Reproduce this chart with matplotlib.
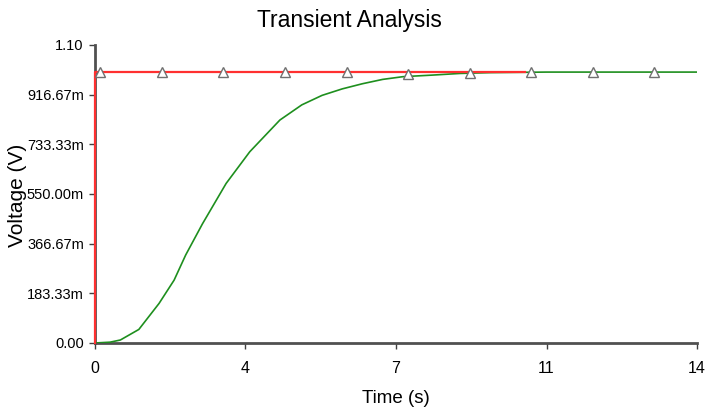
import matplotlib
matplotlib.use("Agg")
import matplotlib.pyplot as plt

# data
t_out = [0.0, 0.35, 0.59, 1.02, 1.49, 1.84, 2.11, 2.50, 3.05, 3.60, 4.30, 4.81,
         5.28, 5.75, 6.22, 6.69, 7.16, 7.86, 8.49, 9.2, 10.5, 14.0]
v_out = [0.0, 0.003, 0.011, 0.05, 0.146, 0.232, 0.325, 0.44, 0.589, 0.706, 0.823, 0.879,
         0.914, 0.938, 0.957, 0.973, 0.983, 0.989, 0.995, 0.998, 1.0, 1.0]
t_in = [0.0, 0.0, 10.0]
v_in = [0.0, 1.0, 1.0]
t_mark = [0.12, 1.55, 2.98, 4.41, 5.85, 7.28, 8.71, 10.14, 11.57, 13.0]
v_mark = [1.0, 1.0, 1.0, 1.0, 1.0, 0.993, 0.998, 1.0, 1.0, 1.0]

yticks = [0, 0.18333, 0.36667, 0.55, 0.73333, 0.91667, 1.1]
ylabels = ["0.00", "183.33m", "366.67m", "550.00m", "733.33m", "916.67m", "1.10"]
xticks = [0, 3.5, 7, 10.5, 14]
xlabels = ["0", "4", "7", "11", "14"]

plt.rcParams['font.family'] = ['Liberation Sans', 'DejaVu Sans']

fig = plt.figure(figsize=(7.13, 4.12), dpi=100)
ax = fig.add_axes([0.1332, 0.1675, 0.8444, 0.7233])

ax.plot(t_out, v_out, color='#1e8f1e', lw=1.2, zorder=3)
# input step drawn over the left spine, like the reference
ax.plot(t_in, v_in, color='#ff3030', lw=1.6, zorder=3.2, clip_on=False)
ax.plot(t_mark, v_mark, ls='none', marker='^', ms=6.5, mfc='white', mec='#707070', mew=1.0, zorder=4)

ax.set_xlim(0, 14)
ax.set_ylim(0, 1.1)
ax.set_xticks(xticks)
ax.set_xticklabels(xlabels)
ax.set_yticks(yticks)
ax.set_yticklabels(ylabels)
ax.tick_params(labelsize=10.5, length=4, width=1, color='#404040', direction='out')
ax.tick_params(axis='x', labelsize=11.5, pad=9)
ax.tick_params(axis='y', pad=4)

for s in ['top', 'right']:
    ax.spines[s].set_visible(False)
for s in ['left', 'bottom']:
    ax.spines[s].set_color('#505050')
    ax.spines[s].set_linewidth(2)

ax.set_xlabel("Time (s)", fontsize=13.5, va='center')
ax.xaxis.set_label_coords(0.5, -0.185)
ax.set_ylabel("Voltage (V)", fontsize=15, va='center')
ax.yaxis.set_label_coords(-0.128, 0.497)
fig.text(0.49, 0.95, "Transient Analysis", ha='center', va='center', fontsize=16.5)

fig.savefig("out.png", dpi=100)
